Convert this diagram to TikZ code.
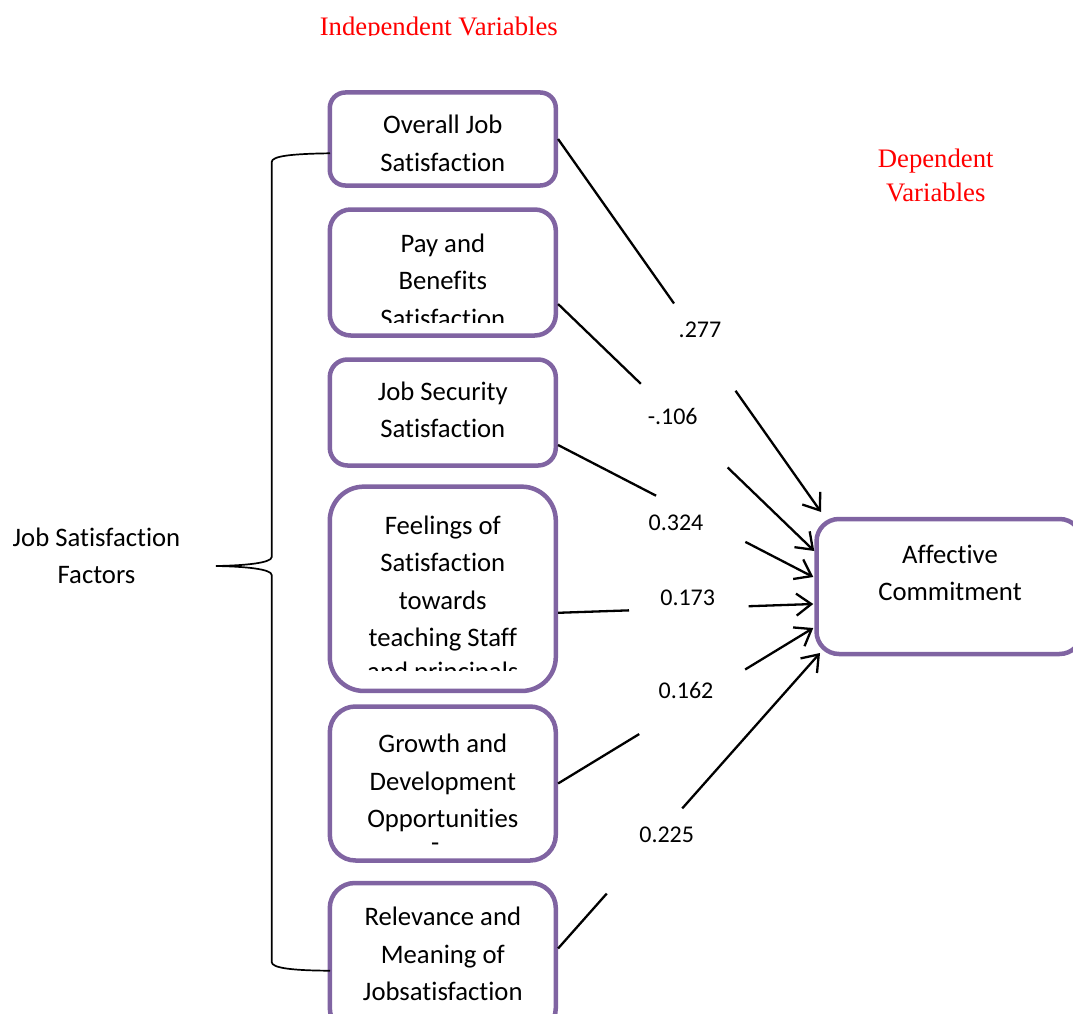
\documentclass[tikz,border=0pt]{standalone}
\usepackage{fontspec}
\setmainfont{Carlito}[Ligatures={NoCommon}]
\newfontfamily\tnr{Liberation Serif}[Ligatures={NoCommon}]
\usetikzlibrary{arrows.meta,calc}
\definecolor{boxpurple}{RGB}{128,100,162}
\begin{document}
\begin{tikzpicture}[x=1pt,y=-1pt,
  vbox/.style={draw=boxpurple, line width=4.5pt, fill=white, minimum width=226pt, inner sep=0pt},
  btext/.style={font=\fontsize{26.7}{37.5}\selectfont, align=center, inner sep=0pt},
  lbl/.style={font=\fontsize{24}{29}\selectfont, inner sep=0pt},
  redtxt/.style={font=\tnr\fontsize{26.7}{34.5}\selectfont, text=red, align=center, inner sep=0pt},
  conn/.style={line width=2.3pt},
  arr/.style={conn, -{Straight Barb[length=15pt,width=22pt]}},
  bracepath/.style={line width=1.7pt}]
\useasboundingbox (0,0) rectangle (1073,1014);
\clip (0,0) rectangle (1073,1014);

% titles
\begin{scope}
\clip (200,0) rectangle (700,36);
\node[redtxt, anchor=base] (indep) at (438.8,36) {Independent Variables};
\end{scope}
\node[redtxt] (dep) at (935.7,175.4) {Dependent\\Variables};

% boxes
\node[vbox, minimum height=93pt, rounded corners=15.5pt] (b1) at (442.8,139) {};
\node[vbox, minimum height=126pt, rounded corners=21pt] (b2) at (442.8,272.5) {};
\node[vbox, minimum height=106pt, rounded corners=17.7pt] (b3) at (442.8,412.5) {};
\node[vbox, minimum height=204.3pt, rounded corners=34pt] (b4) at (442.8,588.8) {};
\node[vbox, minimum height=154pt, rounded corners=25.7pt] (b5) at (442.8,783.5) {};
\node[vbox, minimum height=150pt, rounded corners=25pt] (b6) at (442.8,958) {};
\node[vbox, minimum width=265.5pt, minimum height=135pt, rounded corners=22.5pt] (ac) at (949.25,586.5) {};

% box texts
\node[btext] (t1) at (442.8,143.3) {Overall Job\\Satisfaction};
\begin{scope}
\clip (330,200) rectangle (556,322);
\node[btext] (t2) at (442.8,280.7) {Pay and\\Benefits\\Satisfaction};
\end{scope}
\node[btext] (t3) at (442.8,410) {Job Security\\Satisfaction};
\node[btext] (t4) at (442.8,583.3) {Feelings of\\Satisfaction\\towards\\teaching Staff};
\begin{scope}
\clip (330,600) rectangle (556,670.5);
\node[btext, anchor=base] (t4b) at (442.8,680) {and principals};
\end{scope}
\node[btext] (t5) at (442.8,783) {Growth and\\Development\\Opportunities};
\node[btext, anchor=base] (t5b) at (435.3,851) {-};
\node[btext] (t6) at (442.8,954.2) {Relevance and\\Meaning of\\Jobsatisfaction};
\node[btext] (tac) at (950,572.8) {Affective\\Commitment};

% left label and brace
\node[btext] (jsf) at (96.5,555.7) {Job Satisfaction\\Factors};
\draw[bracepath] (330,153.3) .. controls (292,153.8) and (271.7,156) .. (271.7,162)
  -- (271.7,557) .. controls (271.7,563) and (245,565.5) .. (216,566)
  .. controls (245,566.5) and (271.7,569) .. (271.7,575)
  -- (271.7,962) .. controls (271.7,968) and (292,970.5) .. (330,970.7);

% connector end points
\coordinate (s1) at (b1.east);
\coordinate (s2) at ([yshift=-31.5pt]b2.east);
\coordinate (s3) at ([yshift=-32.5pt]b3.east);
\coordinate (s4) at ([yshift=-24pt]b4.east);
\coordinate (s5) at (b5.east);
\coordinate (s6) at ([yshift=9.5pt]b6.east);
\coordinate (e1) at ($(ac.west)+(6.75,-74.5)$);
\coordinate (e2) at ($(ac.west)+(0,-35.5)$);
\coordinate (e3) at ($(ac.west)+(-1,-9.5)$);
\coordinate (e4) at ($(ac.west)+(-1,17.5)$);
\coordinate (e5) at ($(ac.west)+(-1,41.5)$);
\coordinate (e6) at ($(ac.west)+(5.75,66.5)$);

% connectors (interrupted by the label areas)
\draw[conn] (s1) -- ($(s1)!0.441!(e1)$);
\draw[arr] ($(s1)!0.675!(e1)$) -- (e1);
\draw[conn] (s2) -- ($(s2)!0.323!(e2)$);
\draw[arr] ($(s2)!0.662!(e2)$) -- (e2);
\draw[conn] (s3) -- ($(s3)!0.384!(e3)$);
\draw[arr] ($(s3)!0.734!(e3)$) -- (e3);
\draw[conn] (s4) -- ($(s4)!0.278!(e4)$);
\draw[arr] ($(s4)!0.747!(e4)$) -- (e4);
\draw[conn] (s5) -- ($(s5)!0.318!(e5)$);
\draw[arr] ($(s5)!0.733!(e5)$) -- (e5);
\draw[conn] (s6) -- ($(s6)!0.186!(e6)$);
\draw[arr] ($(s6)!0.474!(e6)$) -- (e6);

% coefficients
\node[lbl] (l1) at (700,330) {.277};
\node[lbl] (l2) at (672.7,416) {-.106};
\node[lbl] (l3) at (676,522.6) {0.324};
\node[lbl] (l4) at (687.7,597.5) {0.173};
\node[lbl] (l5) at (686,690.5) {0.162};
\node[lbl] (l6) at (666.7,835.2) {0.225};
\end{tikzpicture}
\end{document}
